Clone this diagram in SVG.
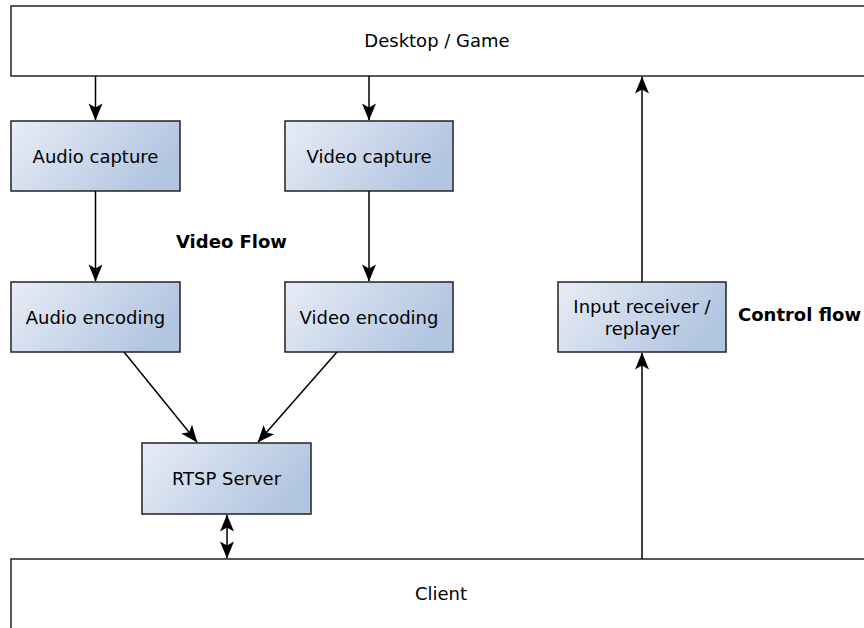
<svg xmlns="http://www.w3.org/2000/svg" width="864" height="628" viewBox="0 0 864 628">
  <defs>
    <linearGradient id="boxFill" x1="0" y1="0" x2="1" y2="0.35">
      <stop offset="0" stop-color="#e8edf6"/>
      <stop offset="1" stop-color="#b3c6e1"/>
    </linearGradient>
    <marker id="head" viewBox="-18 -8 19 16" refX="0" refY="0" markerWidth="19" markerHeight="16" markerUnits="userSpaceOnUse" orient="auto-start-reverse">
      <path d="M0.5,0 L-16.5,-7 L-12.5,0 L-16.5,7 Z" fill="#000"/>
    </marker>
    <style>
      .frame { fill: #fff; stroke: #222; stroke-width: 1.5; }
      .box { fill: url(#boxFill); stroke: #222; stroke-width: 1.5; }
      .lbl { font-family: "DejaVu Sans", sans-serif; font-size: 18px; fill: #000; text-anchor: middle; }
      .bold { font-family: "DejaVu Sans", sans-serif; font-size: 18px; font-weight: bold; fill: #000; }
      .link { stroke: #000; stroke-width: 1.5; fill: none; }
      .arrow { marker-end: url(#head); }
      .both { marker-start: url(#head); marker-end: url(#head); }
    </style>
  </defs>

  <g id="desktop">
    <rect class="frame" x="11" y="6" width="870" height="70"/>
    <text class="lbl" x="437" y="47">Desktop / Game</text>
  </g>

  <g id="client">
    <rect class="frame" x="11" y="559" width="870" height="80"/>
    <text class="lbl" x="441" y="600">Client</text>
  </g>

  <g id="audio-capture">
    <rect class="box" x="11" y="121" width="169" height="70"/>
    <text class="lbl" x="95.5" y="162.5">Audio capture</text>
  </g>

  <g id="video-capture">
    <rect class="box" x="285" y="121" width="168" height="70"/>
    <text class="lbl" x="369" y="162.5">Video capture</text>
  </g>

  <g id="audio-encoding">
    <rect class="box" x="11" y="282" width="169" height="70"/>
    <text class="lbl" x="95.5" y="323.5">Audio encoding</text>
  </g>

  <g id="video-encoding">
    <rect class="box" x="285" y="282" width="168" height="70"/>
    <text class="lbl" x="369" y="323.5">Video encoding</text>
  </g>

  <g id="rtsp-server">
    <rect class="box" x="142" y="443" width="169" height="71"/>
    <text class="lbl" x="226.5" y="485">RTSP Server</text>
  </g>

  <g id="input-receiver">
    <rect class="box" x="558" y="282" width="168" height="70"/>
    <text class="lbl" x="642" y="313">Input receiver /</text>
    <text class="lbl" x="642" y="335">replayer</text>
  </g>

  <g id="labels">
    <text class="bold" x="176" y="248">Video Flow</text>
    <text class="bold" x="738" y="321">Control flow</text>
  </g>

  <g id="connectors">
    <line class="link arrow" x1="95.5" y1="76" x2="95.5" y2="120"/>
    <line class="link arrow" x1="369" y1="76" x2="369" y2="120"/>
    <line class="link arrow" x1="95.5" y1="191" x2="95.5" y2="281"/>
    <line class="link arrow" x1="369" y1="191" x2="369" y2="281"/>
    <line class="link arrow" x1="124" y1="352" x2="197" y2="442"/>
    <line class="link arrow" x1="337" y1="352" x2="258" y2="442"/>
    <line class="link both" x1="227" y1="515" x2="227" y2="558"/>
    <line class="link arrow" x1="642" y1="559" x2="642" y2="353"/>
    <line class="link arrow" x1="642" y1="282" x2="642" y2="77"/>
  </g>
</svg>
